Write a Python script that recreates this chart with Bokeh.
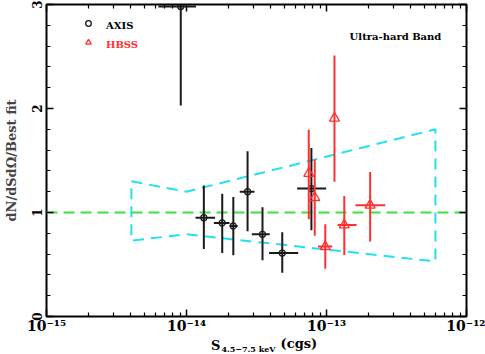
import numpy as np
from bokeh.plotting import figure
from bokeh.layouts import column
from bokeh.models import (Range1d, FixedTicker, CustomJSTickFormatter, Label, Div,
                          ColumnDataSource, LinearAxis, LogAxis, Legend, LegendItem)
from bokeh.embed import file_html
from bokeh.resources import INLINE

# ---------------- data ----------------
axis_flux = [9.1e-15, 1.33e-14, 1.80e-14, 2.16e-14, 2.73e-14, 3.49e-14, 4.83e-14, 7.8e-14]
axis_xlo  = [6.3e-15, 1.16e-14, 1.57e-14, 2.03e-14, 2.40e-14, 2.93e-14, 3.89e-14, 6.17e-14]
axis_xhi  = [1.17e-14, 1.60e-14, 2.03e-14, 2.32e-14, 3.06e-14, 3.93e-14, 6.28e-14, 9.95e-14]
axis_ratio = [2.98, 0.95, 0.90, 0.87, 1.20, 0.79, 0.61, 1.23]
axis_ylo   = [2.03, 0.65, 0.61, 0.59, 0.82, 0.54, 0.42, 0.83]
axis_yhi   = [3.00, 1.26, 1.18, 1.15, 1.59, 1.05, 0.81, 1.62]

hbss_flux = [7.47e-14, 8.24e-14, 1.14e-13, 9.8e-14, 1.34e-13, 2.05e-13]
hbss_xlo  = [7.47e-14, 8.24e-14, 1.14e-13, 8.69e-14, 1.20e-13, 1.61e-13]
hbss_xhi  = [7.47e-14, 8.24e-14, 1.14e-13, 1.10e-13, 1.64e-13, 2.63e-13]
hbss_ratio = [1.375, 1.143, 1.907, 0.672, 0.879, 1.07]
hbss_ylo   = [0.936, 0.777, 1.296, 0.458, 0.592, 0.72]
hbss_yhi   = [1.796, 1.509, 2.51, 0.888, 1.159, 1.39]

band_flux  = [4.04e-15, 1.0e-14, 6.0e-13]
band_upper = [1.30, 1.20, 1.80]
band_lower = [0.73, 0.79, 0.53]

best_fit_level = 1.0
x_tick_values = [1e-15, 1e-14, 1e-13, 1e-12]
y_tick_values = [0, 1, 2, 3]

# ---------------- layout ----------------
FONT = "DejaVu Serif"
W_FIG = 485
H_TITLE = 18
H_FIG = 354 - H_TITLE
B_L, B_R, B_T, B_B = 42, 19, 4, 18
FW = W_FIG - B_L - B_R
FH = H_FIG - B_T - B_B
XMIN, XMAX = 1e-15, 1e-12
YMIN, YMAX = 0.0, 3.0

p = figure(width=W_FIG, height=H_FIG, x_axis_type="log",
           x_range=Range1d(XMIN, XMAX), y_range=Range1d(YMIN, YMAX),
           output_backend="svg", toolbar_location=None,
           min_border_left=B_L, min_border_right=B_R,
           min_border_top=B_T, min_border_bottom=B_B,
           x_axis_location=None, y_axis_location=None)
p.grid.visible = False
p.outline_line_color = "black"
p.outline_line_width = 2
p.background_fill_color = "white"
p.border_fill_color = "white"

x_minor = [k * 10.0 ** d for d in range(-15, -12) for k in range(2, 10)]
y_minor = [v for v in np.round(np.arange(0, 3.01, 0.2), 2) if v not in y_tick_values]

def style_axis(ax):
    ax.major_tick_in = 7
    ax.major_tick_out = 0
    ax.minor_tick_in = 4
    ax.minor_tick_out = 0
    ax.axis_line_color = None
    ax.major_tick_line_color = "black"
    ax.minor_tick_line_color = "black"
    ax.major_tick_line_width = 1.5
    ax.minor_tick_line_width = 1.2
    ax.major_label_text_font = FONT
    ax.major_label_text_font_style = "bold"
    ax.major_label_text_color = "black"

sup_code = """
const e = Math.round(Math.log10(tick));
const m = {'-':'\u207b','0':'\u2070','1':'\u00b9','2':'\u00b2','3':'\u00b3','4':'\u2074',
           '5':'\u2075','6':'\u2076','7':'\u2077','8':'\u2078','9':'\u2079'};
let s = '';
for (const c of String(e)) { s += m[c]; }
return '10' + s;
"""

xb = LogAxis(ticker=FixedTicker(ticks=x_tick_values, minor_ticks=x_minor),
             formatter=CustomJSTickFormatter(code=sup_code))
style_axis(xb)
xb.major_label_text_font_size = "14px"
xb.major_label_standoff = 1
p.add_layout(xb, "below")

xt = LogAxis(ticker=FixedTicker(ticks=x_tick_values, minor_ticks=x_minor),
             formatter=CustomJSTickFormatter(code="return '';"))
style_axis(xt)
xt.major_label_text_font_size = "0px"
xt.major_label_standoff = 0
p.add_layout(xt, "above")

yl = LinearAxis(ticker=FixedTicker(ticks=y_tick_values, minor_ticks=y_minor),
                axis_label="dN/dSdΩ/Best fit")
style_axis(yl)
yl.major_label_orientation = "vertical"
yl.major_label_text_font_size = "12px"
yl.major_label_standoff = 5
yl.axis_label_text_font = FONT
yl.axis_label_text_font_style = "bold"
yl.axis_label_text_font_size = "13px"
yl.axis_label_standoff = 10
p.add_layout(yl, "left")

yr = LinearAxis(ticker=FixedTicker(ticks=y_tick_values, minor_ticks=y_minor),
                formatter=CustomJSTickFormatter(code="return '';"))
style_axis(yr)
yr.major_label_text_font_size = "0px"
yr.major_label_standoff = 0
p.add_layout(yr, "right")

# ---------------- glyphs ----------------
CYAN = "#22e0f0"
GREEN = "#3de03d"
RED = "#ff3030"
BLACK = "#1a1a1a"

bx = list(band_flux) + list(band_flux[::-1]) + [band_flux[0]]
by = list(band_upper) + list(band_lower[::-1]) + [band_upper[0]]
p.line(bx, by, line_color=CYAN, line_width=2, line_dash="11 7")

p.line([XMIN, XMAX], [best_fit_level, best_fit_level], line_color=GREEN,
       line_width=2.2, line_dash="11 6")

asrc = ColumnDataSource(dict(x=axis_flux, y=axis_ratio, xlo=axis_xlo, xhi=axis_xhi,
                             ylo=axis_ylo, yhi=axis_yhi))
hsrc = ColumnDataSource(dict(x=hbss_flux, y=hbss_ratio, xlo=hbss_xlo, xhi=hbss_xhi,
                             ylo=hbss_ylo, yhi=hbss_yhi))

p.segment(x0="x", y0="ylo", x1="x", y1="yhi", source=asrc, line_color=BLACK, line_width=2)
p.segment(x0="xlo", y0="y", x1="xhi", y1="y", source=asrc, line_color=BLACK, line_width=2)
r_axis = p.scatter(x="x", y="y", source=asrc, marker="circle", size=6,
                   fill_color=None, line_color=BLACK, line_width=1.3)

p.segment(x0="x", y0="ylo", x1="x", y1="yhi", source=hsrc, line_color=RED, line_width=2)
p.segment(x0="xlo", y0="y", x1="xhi", y1="y", source=hsrc, line_color=RED, line_width=2)
r_hbss = p.scatter(x="x", y="y", source=hsrc, marker="triangle", size=10,
                   fill_color=None, line_color=RED, line_width=1.3)

# ---------------- legend ----------------
legend = Legend(items=[LegendItem(label="AXIS", renderers=[r_axis]),
                       LegendItem(label="HBSS", renderers=[r_hbss])],
                location=(35, FH - 47), padding=0, margin=0, spacing=5,
                glyph_width=14, glyph_height=14, label_height=14,
                label_standoff=11, border_line_color=None,
                background_fill_alpha=0.0,
                label_text_font=FONT, label_text_font_style="bold",
                label_text_font_size="10px")
p.add_layout(legend)
p.legend.label_text_alpha = 0.0

# ---------------- text annotations ----------------
def dx(px):
    return 10 ** (np.log10(XMIN) + (np.log10(XMAX) - np.log10(XMIN)) * px / FW)

def dy(px_from_bottom):
    return YMIN + (YMAX - YMIN) * px_from_bottom / FH

p.add_layout(Label(x=dx(60), y=dy(FH - 21), text="AXIS", text_font=FONT,
                   text_font_style="bold", text_font_size="10px",
                   text_color="black", text_baseline="middle"))
p.add_layout(Label(x=dx(60), y=dy(FH - 40), text="HBSS", text_font=FONT,
                   text_font_style="bold", text_font_size="10px",
                   text_color=RED, text_baseline="middle"))
p.add_layout(Label(x=dx(306), y=dy(FH - 32), text="Ultra-hard Band", text_font=FONT,
                   text_font_style="bold", text_font_size="10px",
                   text_color="black", text_baseline="middle"))

# ---------------- x-axis title (HTML, with a real subscript) ----------------
xtitle_html = (
    "<div style=\"padding:2px 0 0 211px; height:16px; line-height:15px; "
    "font-family:'DejaVu Serif'; font-weight:bold; font-size:13px; color:black; "
    "white-space:nowrap;\">"
    "S<span style=\"font-size:8px; line-height:8px; position:relative; top:2px; "
    "margin-left:1px;\">4.5−7.5 keV</span>"
    "<span style=\"line-height:13px; position:relative; top:-2px; margin-left:5px;\">"
    "(cgs)</span>"
    "</div>"
)
xtitle = Div(text=xtitle_html, width=W_FIG, height=H_TITLE, margin=0)

layout = column(p, xtitle, spacing=0)
open("out.html", "w").write(file_html(layout, INLINE))
